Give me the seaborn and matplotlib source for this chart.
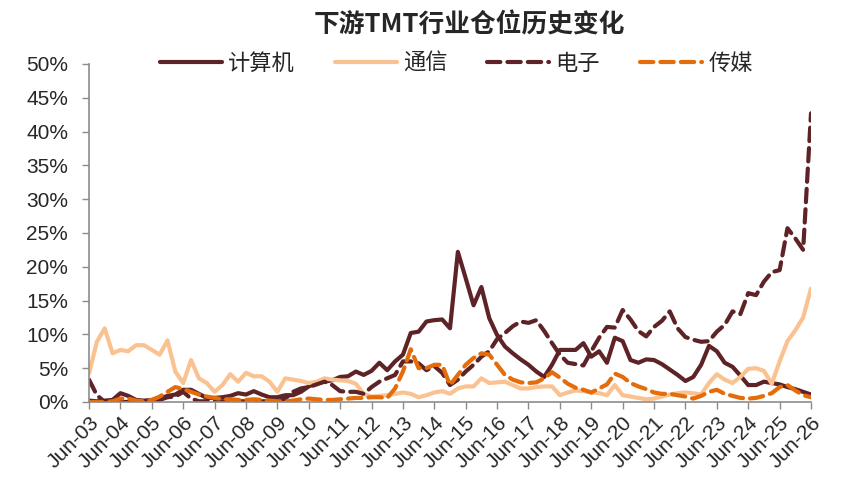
import numpy as np
import pandas as pd
import matplotlib
matplotlib.use("Agg")
import matplotlib.pyplot as plt
import seaborn as sns

# ---------- data (quarterly position, %) ----------
quarters = pd.period_range("2003Q2", "2026Q2", freq="Q")

computer = [0.2, 0.1, 0.2, 0.3, 1.3, 0.9, 0.3, 0.2, 0.3, 0.5,
            0.9, 1.1, 1.8, 1.8, 1.2, 0.6, 0.6, 0.7, 0.9, 1.3,
            1.1, 1.6, 1.1, 0.7, 0.7, 1.0, 1.0, 1.5, 2.3, 2.8,
            3.0, 3.2, 3.7, 3.8, 4.5, 4.0, 4.6, 5.8, 4.7, 6.0,
            7.0, 10.2, 10.4, 11.9, 12.1, 12.2, 10.9, 22.2, 18.3, 14.3,
            17.0, 12.4, 9.9, 8.2, 7.2, 6.3, 5.5, 4.5, 3.7, 5.5,
            7.7, 7.7, 7.7, 8.7, 6.7, 7.5, 5.8, 9.5, 9.0, 6.2,
            5.8, 6.3, 6.2, 5.6, 4.8, 4.0, 3.1, 3.7, 5.5, 8.3,
            7.5, 5.8, 5.2, 3.9, 2.5, 2.5, 3.0, 2.8, 2.6, 2.2,
            1.9, 1.5, 1.1]

telecom = [4.2, 8.9, 10.9, 7.2, 7.7, 7.5, 8.4, 8.4, 7.7, 7.0,
           9.1, 4.5, 2.8, 6.2, 3.5, 2.8, 1.5, 2.5, 4.1, 3.0,
           4.3, 3.8, 3.8, 3.0, 1.5, 3.5, 3.3, 3.1, 2.8, 3.0,
           3.5, 3.3, 3.2, 3.1, 2.7, 1.2, 0.8, 0.9, 1.0, 1.2,
           1.4, 1.2, 0.7, 1.0, 1.4, 1.6, 1.2, 2.0, 2.3, 2.3,
           3.5, 2.8, 2.9, 3.0, 2.5, 2.0, 2.0, 2.2, 2.3, 2.3,
           1.0, 1.4, 1.7, 1.6, 1.4, 1.3, 1.0, 2.5, 1.0, 0.8,
           0.6, 0.4, 0.5, 0.8, 1.1, 1.3, 1.4, 1.3, 1.1, 2.8,
           4.1, 3.3, 2.8, 3.7, 4.9, 5.0, 4.6, 2.7, 6.0, 9.0,
           10.6, 12.5, 16.8]

electronics = [3.3, 1.0, 0.0, 0.0, 0.0, 0.0, 0.0, 0.0, 0.0, 0.3,
               0.7, 0.8, 1.5, 0.5, 0.1, 0.1, 0.1, 0.1, 0.1, 0.1,
               0.1, 0.1, 0.1, 0.1, 0.1, 0.5, 1.5, 2.0, 2.2, 2.6,
               3.0, 2.5, 1.6, 1.5, 1.5, 1.2, 2.2, 3.0, 3.5, 4.0,
               6.0, 6.0, 5.7, 4.7, 5.3, 4.3, 2.5, 3.3, 4.5, 5.5,
               6.7, 7.5, 9.3, 10.2, 11.2, 11.9, 11.7, 12.1, 10.5, 8.7,
               7.0, 5.8, 5.6, 5.4, 7.5, 9.5, 11.1, 11.0, 13.6, 12.2,
               10.5, 9.7, 11.1, 12.0, 13.4, 10.9, 9.6, 9.2, 8.9, 9.0,
               10.4, 11.4, 13.4, 13.0, 16.1, 15.8, 17.8, 19.2, 19.5, 25.7,
               24.2, 22.5, 42.7]

media = [0.0, 0.0, 0.0, 0.1, 0.5, 0.5, 0.2, 0.1, 0.3, 0.8,
         1.5, 2.2, 1.9, 1.5, 1.1, 0.8, 0.6, 0.4, 0.4, 0.3,
         0.3, 0.4, 0.3, 0.2, 0.1, 0.1, 0.2, 0.4, 0.5, 0.4,
         0.3, 0.3, 0.4, 0.5, 0.6, 0.6, 0.7, 0.7, 0.6, 2.0,
         4.5, 7.8, 5.0, 5.0, 5.5, 5.5, 2.5, 4.0, 5.5, 6.5,
         7.2, 7.0, 5.5, 4.0, 3.3, 2.9, 2.8, 2.9, 3.5, 4.4,
         3.6, 2.7, 2.1, 1.8, 1.4, 2.0, 2.6, 4.2, 3.7, 2.8,
         2.3, 1.9, 1.4, 1.2, 1.2, 1.0, 0.8, 0.5, 0.9, 1.5,
         1.8, 1.2, 0.9, 0.6, 0.5, 0.6, 0.9, 1.3, 2.2, 2.5,
         1.7, 1.0, 0.7]

series_names = ["计算机", "通信", "电子", "传媒"]
colors = ["#5E2326", "#FBC291", "#5E2326", "#E46C0A"]
dashed = [False, False, True, True]

# ---------- build long table ----------
df = pd.DataFrame({
    "idx": np.arange(len(quarters)),
    "计算机": computer,
    "通信": telecom,
    "电子": electronics,
    "传媒": media,
})
long_df = df.melt(id_vars="idx", var_name="行业", value_name="仓位")
long_df["仓位"] = long_df["仓位"] / 100.0

# ---------- plot ----------
sns.set_theme(style="white")
plt.rcParams["font.family"] = ["Liberation Sans", "Noto Sans CJK SC", "DejaVu Sans"]
cjk = ["Noto Sans CJK SC", "DejaVu Sans"]

fig, ax = plt.subplots(figsize=(8.51, 4.92), dpi=100)
fig.subplots_adjust(left=0.1046, right=0.953, top=0.87, bottom=0.183)

for name, col, dsh in zip(series_names, colors, dashed):
    sub = long_df[long_df["行业"] == name]
    sns.lineplot(data=sub, x="idx", y="仓位", ax=ax, color=col,
                 linewidth=3.0, label=name, legend=False)
    line = ax.lines[-1]
    if dsh:
        line.set_dashes([3.2, 1.7])
        line.set_dash_capstyle("round")
    line.set_solid_capstyle("round")

ax.set_xlim(0, len(quarters) - 1)
ax.set_ylim(0, 0.5)
yt = np.arange(0, 0.501, 0.05)
ax.set_yticks(yt)
ax.set_yticklabels([f"{int(round(v * 100))}%" for v in yt], fontsize=15)

tick_pos = np.arange(0, len(quarters), 4)
tick_labels = ["Jun-" + str(quarters[i].year)[2:] for i in tick_pos]
ax.set_xticks(tick_pos)
ax.set_xticklabels(tick_labels, rotation=45, ha="right", rotation_mode="anchor",
                   fontsize=15)

ax.set_xlabel("")
ax.set_ylabel("")
for side in ["top", "right"]:
    ax.spines[side].set_visible(False)
for side in ["left", "bottom"]:
    ax.spines[side].set_color("#8C8C8C")
    ax.spines[side].set_linewidth(1.2)
ax.tick_params(axis="both", which="both", direction="out", length=5,
               color="#8C8C8C", width=1.0)
ax.tick_params(axis="x", bottom=True, pad=3)
ax.tick_params(axis="y", left=True, pad=10)

fig.text(0.552, 0.949, "下游TMT行业仓位历史变化", ha="center", va="center",
         fontsize=18.5, fontweight="bold", family=cjk)

handles, labels = ax.get_legend_handles_labels()
leg = fig.legend(handles, labels, loc="center", bbox_to_anchor=(0.536, 0.872),
                 ncol=4, frameon=False, fontsize=16, handlelength=2.8,
                 columnspacing=1.8, handletextpad=0.27, borderaxespad=0)
for t in leg.get_texts():
    t.set_family(cjk)

fig.savefig("out.png", dpi=100)
